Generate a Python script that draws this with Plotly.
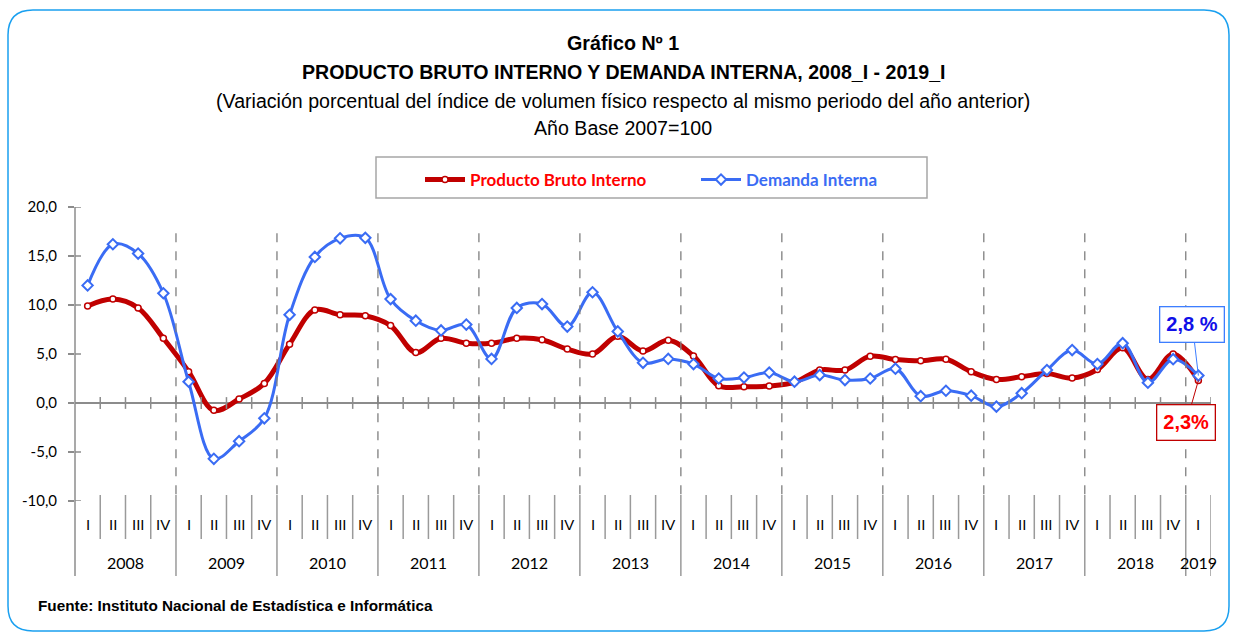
import plotly.graph_objects as go

# ---------------- data ----------------
years = ["2008", "2009", "2010", "2011", "2012", "2013", "2014", "2015",
         "2016", "2017", "2018", "2019"]
quarters_per_year = [4, 4, 4, 4, 4, 4, 4, 4, 4, 4, 4, 1]
quarter_labels = ["I", "II", "III", "IV"]

pbi = [9.9, 10.6, 9.7, 6.6,
       3.2, -0.75, 0.4, 2.0,
       6.0, 9.5, 9.0, 8.9,
       7.9, 5.15, 6.6, 6.1,
       6.1, 6.6, 6.45, 5.5,
       5.0, 6.8, 5.3, 6.4,
       4.8, 1.76, 1.66, 1.73,
       2.1, 3.36, 3.36, 4.78,
       4.44, 4.3, 4.47, 3.19,
       2.4, 2.68, 3.0, 2.54,
       3.42, 5.63, 2.4, 5.0,
       2.3]

di = [12.0, 16.2, 15.25, 11.2,
      2.17, -5.7, -3.9, -1.56,
      9.0, 14.9, 16.8, 16.85,
      10.6, 8.4, 7.4, 8.0,
      4.5, 9.7, 10.1, 7.8,
      11.3, 7.3, 4.1, 4.5,
      3.97, 2.5, 2.6, 3.1,
      2.17, 2.85, 2.34, 2.5,
      3.5, 0.7, 1.25, 0.75,
      -0.37, 1.0, 3.36, 5.4,
      3.97, 6.1, 2.07, 4.47,
      2.8]

ytick_vals = [-10, -5, 0, 5, 10, 15, 20]
ytick_text = ["-10,0", "-5,0", "0,0", "5,0", "10,0", "15,0", "20,0"]

pbi_name = "Producto Bruto Interno"
di_name = "Demanda Interna"
pbi_label = "2,3%"
di_label = "2,8 %"

title1 = "Gráfico Nº 1"
title2 = "PRODUCTO BRUTO INTERNO Y DEMANDA INTERNA, 2008_I - 2019_I"
title3 = "(Variación porcentual del índice de volumen físico respecto al mismo periodo del año anterior)"
title4 = "Año Base 2007=100"
source = "Fuente: Instituto Nacional de Estadística e Informática"

# ---------------- layout geometry ----------------
W, H = 1234, 635
ML, MR, MT, MB = 75, 23, 207, 134
PW = W - ML - MR
PH = H - MT - MB


def px_x(px):
    return (px - ML) / PW


def px_y(py):
    return (H - MB - py) / PH


ARIAL = "Liberation Sans, Arial, sans-serif"
CALIBRI = "Lato, Carlito, Calibri, Liberation Sans, sans-serif"
GRAY = "#8c8c8c"

n = len(pbi)
idx = list(range(n))
q_text = []
q_year_idx = []
for yi, nq in enumerate(quarters_per_year):
    for q in range(nq):
        q_text.append(quarter_labels[q])
        q_year_idx.append(yi)

fig = go.Figure()
fig.add_trace(go.Scatter(
    x=idx, y=pbi, mode="lines+markers",
    name="<b><span style='color:#FF0000'>" + pbi_name + "</span></b>",
    line=dict(color="#C00000", width=5, shape="spline", smoothing=1),
    marker=dict(symbol="circle", size=6, color="white",
                line=dict(color="#C00000", width=1.5)),
))
fig.add_trace(go.Scatter(
    x=idx, y=di, mode="lines+markers",
    name="<b><span style='color:#3A6CF4'>" + di_name + "</span></b>",
    line=dict(color="#3A6CF4", width=3, shape="spline", smoothing=1),
    marker=dict(symbol="diamond", size=8, color="white",
                line=dict(color="#3A6CF4", width=2)),
))

shapes = []
# outer rounded border
x0, x1 = px_x(8), px_x(1229)
y0, y1 = px_y(631), px_y(10)
rx, ry = 25 / PW, 25 / PH
path = (f"M {x0+rx},{y1} L {x1-rx},{y1} Q {x1},{y1} {x1},{y1-ry} "
        f"L {x1},{y0+ry} Q {x1},{y0} {x1-rx},{y0} L {x0+rx},{y0} "
        f"Q {x0},{y0} {x0},{y0+ry} L {x0},{y1-ry} Q {x0},{y1} {x0+rx},{y1} Z")
shapes.append(dict(type="path", path=path, xref="paper", yref="paper",
                   line=dict(color="#1AA0F0", width=1.5), layer="below"))
# legend box
shapes.append(dict(type="rect", xref="paper", yref="paper",
                   x0=px_x(376), x1=px_x(927), y0=px_y(198), y1=px_y(157),
                   line=dict(color="#A6A6A6", width=1.5)))
# y axis line (extends through category area)
shapes.append(dict(type="line", xref="paper", yref="paper",
                   x0=0, x1=0, y0=px_y(576), y1=1,
                   line=dict(color=GRAY, width=1.5)))
# inside parts of the y ticks
for v in ytick_vals:
    shapes.append(dict(type="line", xref="paper", yref="y",
                       x0=0, x1=6 / PW, y0=v, y1=v,
                       line=dict(color=GRAY, width=1.5)))

# boundaries between quarters
year_start = 0
year_bounds = set()
for nq in quarters_per_year:
    year_start += nq
    year_bounds.add(year_start)
for k in range(1, n + 1):
    b = k - 0.5
    # ticks on the zero line
    shapes.append(dict(type="line", xref="x", yref="y",
                       x0=b, x1=b, y0=-0.6, y1=0.6,
                       line=dict(color=GRAY, width=1.5)))
    is_year = k in year_bounds
    shapes.append(dict(type="line", xref="x", yref="paper",
                       x0=b, x1=b, y0=px_y(576) if is_year else px_y(539),
                       y1=px_y(495),
                       line=dict(color="#9a9a9a", width=1.5)))
    if is_year and k < n:
        shapes.append(dict(type="line", xref="x", yref="y",
                           x0=b, x1=b, y0=-9.3, y1=17.7,
                           line=dict(color="#7f7f7f", width=1.3, dash="dash")))

annotations = []
for i in idx:
    annotations.append(dict(x=i, y=px_y(524), xref="x", yref="paper",
                            text=q_text[i], showarrow=False,
                            font=dict(family=ARIAL, size=15, color="#000"),
                            yanchor="middle"))
for yi, yr in enumerate(years):
    members = [i for i in idx if q_year_idx[i] == yi]
    cx = sum(members) / len(members)
    annotations.append(dict(x=cx, y=px_y(562), xref="x", yref="paper",
                            text=yr, showarrow=False,
                            font=dict(family=CALIBRI, size=16, color="#000"),
                            yanchor="middle"))

# titles
cxp = px_x(623)
for txt, py, bold, sz in [(title1, 43, True, 19.7), (title2, 72, True, 19.6),
                          (title3, 101, False, 19.6), (title4, 128, False, 19.6)]:
    annotations.append(dict(x=cxp, y=px_y(py), xref="paper", yref="paper",
                            text=f"<b>{txt}</b>" if bold else txt,
                            showarrow=False, xanchor="center", yanchor="middle",
                            font=dict(family=ARIAL, size=sz, color="#000")))
annotations.append(dict(x=px_x(36), y=px_y(605), xref="paper", yref="paper",
                        text=f"<b>{source}</b>", showarrow=False,
                        xanchor="left", yanchor="middle",
                        font=dict(family=ARIAL, size=15.3, color="#000")))

# callouts
annotations.append(dict(x=idx[-1], y=di[-1], xref="x", yref="y",
                        text=f"<b>{di_label}</b>", showarrow=True,
                        ax=-6, ay=-51, arrowhead=0, arrowwidth=1,
                        arrowcolor="#3D7EFF", standoff=0,
                        bordercolor="#3D7EFF", borderwidth=1.3, borderpad=6,
                        bgcolor="white",
                        font=dict(family=ARIAL, size=20, color="#1010E8")))
annotations.append(dict(x=idx[-1], y=pbi[-1], xref="x", yref="y",
                        text=f"<b>{pbi_label}</b>", showarrow=True,
                        ax=-12, ay=42, arrowhead=0, arrowwidth=1,
                        arrowcolor="#C00000", standoff=0,
                        bordercolor="#C00000", borderwidth=1.3, borderpad=6,
                        bgcolor="white",
                        font=dict(family=ARIAL, size=20, color="#FF0000")))

fig.update_layout(
    width=W, height=H,
    margin=dict(l=ML, r=MR, t=MT, b=MB, pad=0),
    paper_bgcolor="white", plot_bgcolor="white",
    showlegend=True,
    legend=dict(orientation="h", x=px_x(420), y=px_y(180),
                xanchor="left", yanchor="middle",
                bgcolor="rgba(0,0,0,0)", borderwidth=0,
                font=dict(family=CALIBRI, size=17),
                entrywidth=221, entrywidthmode="pixels",
                itemwidth=40),
    xaxis=dict(range=[-0.5, n - 0.5], visible=False, fixedrange=True),
    yaxis=dict(range=[-10, 20], tickvals=ytick_vals, ticktext=ytick_text,
               ticks="outside", ticklen=6, tickcolor=GRAY, tickwidth=1.5,
               showgrid=False, showline=False,
               zeroline=True, zerolinecolor=GRAY, zerolinewidth=1.5,
               ticklabelstandoff=8, fixedrange=True,
               tickfont=dict(family=CALIBRI, size=15, color="#000")),
    shapes=shapes,
    annotations=annotations,
)

fig.write_html("out.html",
               config={"displayModeBar": False},
               post_script="document.body.style.margin='0';"
                           "document.body.style.overflow='hidden';")
